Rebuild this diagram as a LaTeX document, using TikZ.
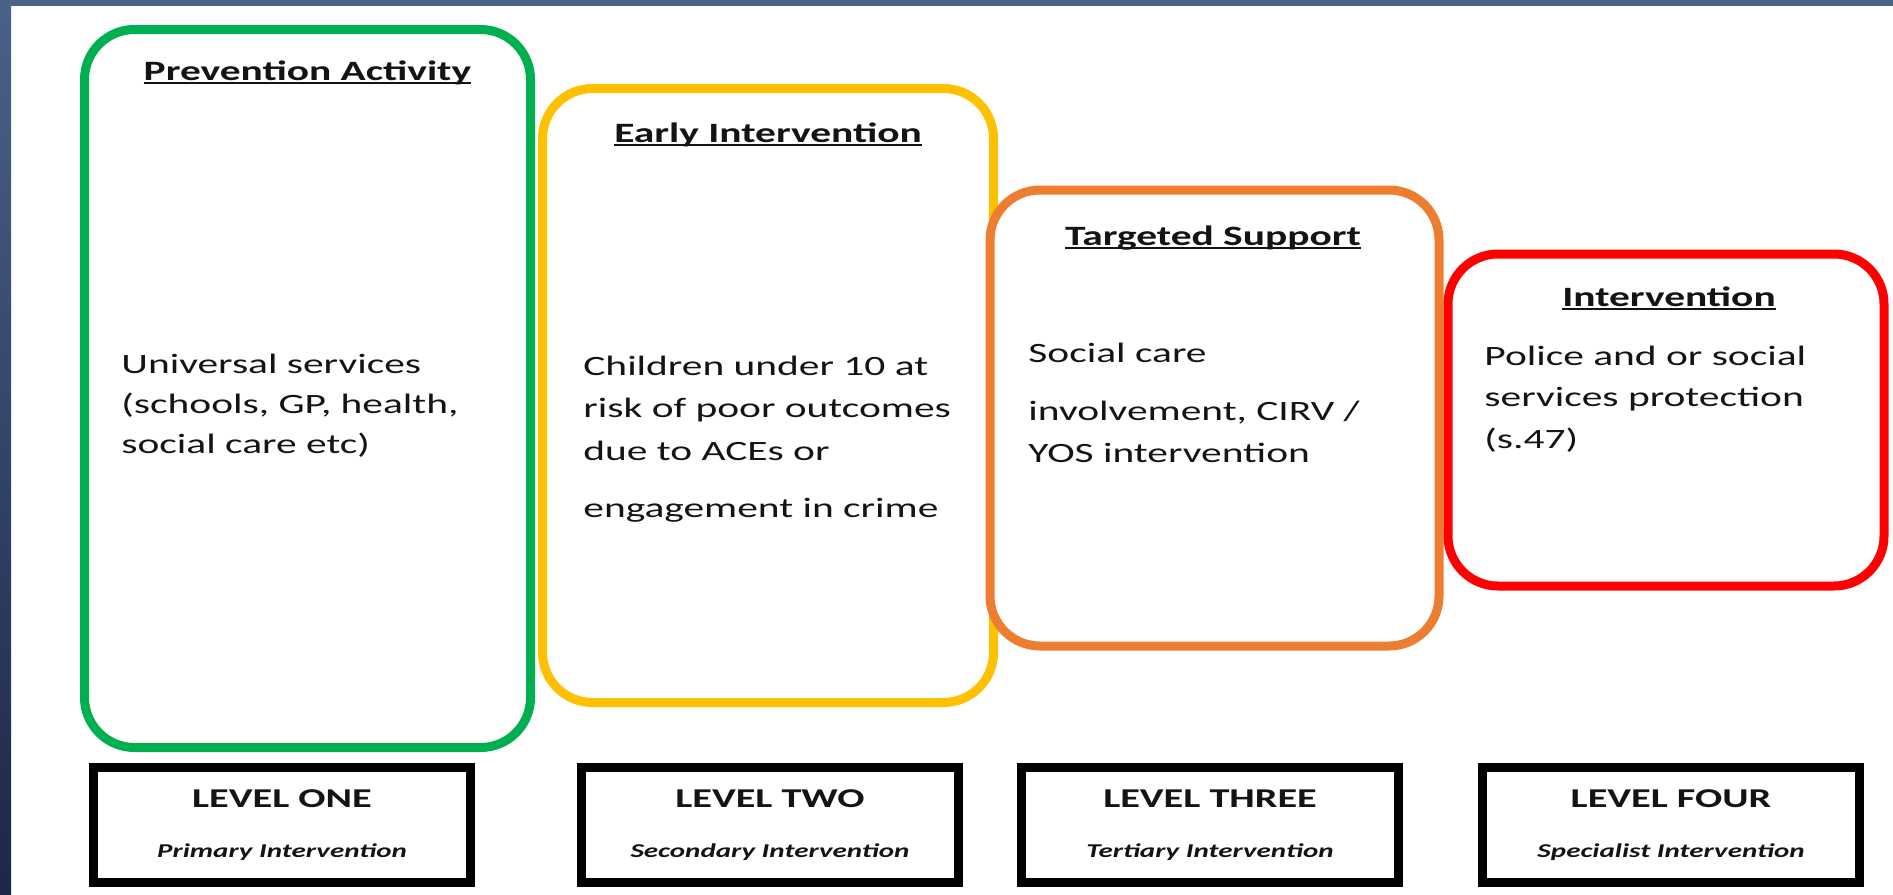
\documentclass[tikz,border=0pt]{standalone}
\usepackage{fontspec}
\setmainfont{Carlito}
\usepackage{graphicx}
\definecolor{pgreen}{HTML}{00B050}
\definecolor{pyellow}{HTML}{FFC000}
\definecolor{porange}{HTML}{ED7D31}
\definecolor{pred}{HTML}{FF0000}
\definecolor{ink}{HTML}{141414}
\definecolor{stripA}{HTML}{4A6288}
\definecolor{stripB}{HTML}{1D2747}
\newcommand{\wide}[1]{\scalebox{1.48}[1]{#1}}
\newcommand{\ulx}[1]{\setbox0\hbox{#1}\rlap{\rule[-1.9pt]{\wd0}{0.9pt}}\box0}
\tikzset{
  phase/.style={draw=#1, line width=4.5pt, rounded corners=25pt, fill=white, inner sep=0pt},
  head/.style={anchor=base, inner sep=0pt, text=ink, font=\fontsize{14}{21}\selectfont\bfseries},
  body/.style={anchor=base west, inner sep=0pt, text=ink, font=\fontsize{14}{#1}\selectfont},
  lvlbox/.style={draw=black, line width=4.5pt, minimum width=188.5pt, minimum height=57.5pt, inner sep=0pt},
  lvltitle/.style={anchor=base, inner sep=0pt, text=ink, font=\fontsize{13.6}{17}\selectfont\bfseries},
  lvlsub/.style={anchor=base, inner sep=0pt, text=ink, font=\fontsize{9.8}{12}\selectfont\bfseries\itshape},
}
\begin{document}
\begin{tikzpicture}[x=0.5pt,y=-0.5pt]
\useasboundingbox (0,0) rectangle (1893,894);
\fill[white] (0,0) rectangle (1893,894);
% slide border strips
\shade[top color=stripA, bottom color=stripB] (0,0) rectangle (11,894);
\fill[stripA] (0,0) rectangle (1893,6);
% phase boxes
\node[phase=pgreen, minimum width=223pt, minimum height=359pt] (prev) at (307.5,388.5) {};
\node[phase=pyellow, minimum width=225.5pt, minimum height=307pt] (early) at (768,395.5) {};
\node[phase=porange, minimum width=224.5pt, minimum height=228pt] (targ) at (1214.5,418) {};
\begin{scope}
\clip (0,0) rectangle (1893,894);
\node[phase=pred, minimum width=218pt, minimum height=166pt] (interv) at (1666,420) {};
\end{scope}
% headings
\node[head] (prevh) at (307.5,80) {\wide{\ulx{Prevention Activity}}};
\node[head] (earlyh) at (768,142) {\wide{\ulx{Early Intervention}}};
\node[head] (targh) at (1213,245) {\wide{\ulx{Targeted Support}}};
\node[head] (intervh) at (1669,306) {\wide{\ulx{Intervention}}};
% bodies
\node[body=20pt] (prevb) at (121,373) {\wide{\begin{tabular}[t]{@{}l@{}}Universal services\\(schools, GP, health,\\social care etc)\end{tabular}}};
\node[body=21.25pt] (earlyb) at (583,375) {\wide{\begin{tabular}[t]{@{}l@{}}Children under 10 at\\risk of poor outcomes\\due to ACEs or\\[7.5pt]engagement in crime\end{tabular}}};
\node[body=20.75pt] (targb) at (1028,362) {\wide{\begin{tabular}[t]{@{}l@{}}Social care\\[8.5pt]involvement, CIRV /\\YOS intervention\end{tabular}}};
\node[body=20.75pt] (intervb) at (1484,365) {\wide{\begin{tabular}[t]{@{}l@{}}Police and or social\\services protection\\(s.47)\end{tabular}}};
% level boxes
\node[lvlbox] (l1) at (282,825) {};
\node[lvlbox] (l2) at (770,825) {};
\node[lvlbox] (l3) at (1210,825) {};
\node[lvlbox] (l4) at (1671,825) {};
\node[lvltitle] (l1t) at (282,807) {\wide{LEVEL ONE}};
\node[lvlsub] (l1s) at (282,857) {\wide{Primary Intervention}};
\node[lvltitle] (l2t) at (770,807) {\wide{LEVEL TWO}};
\node[lvlsub] (l2s) at (770,857) {\wide{Secondary Intervention}};
\node[lvltitle] (l3t) at (1210,807) {\wide{LEVEL THREE}};
\node[lvlsub] (l3s) at (1210,857) {\wide{Tertiary Intervention}};
\node[lvltitle] (l4t) at (1671,807) {\wide{LEVEL FOUR}};
\node[lvlsub] (l4s) at (1671,857) {\wide{Specialist Intervention}};
\end{tikzpicture}
\end{document}
